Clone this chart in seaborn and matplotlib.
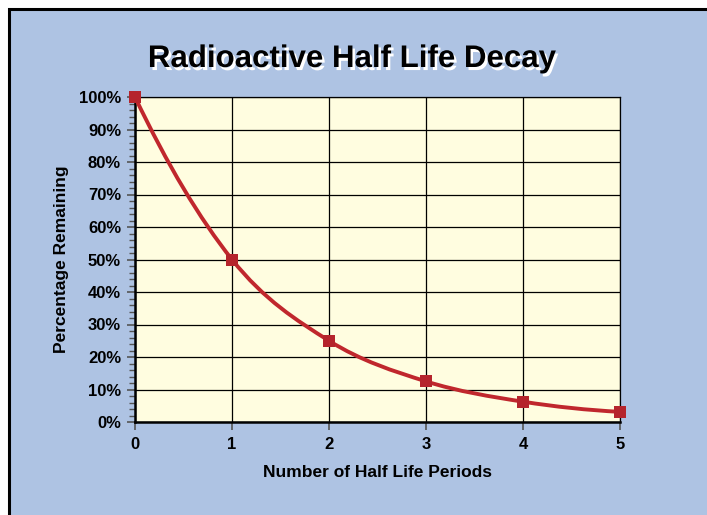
import numpy as np
import pandas as pd

import matplotlib
matplotlib.use('Agg')
import matplotlib.pyplot as plt
import matplotlib.patheffects as pe
from matplotlib.path import Path
from matplotlib.patches import PathPatch, Rectangle
from matplotlib.ticker import MultipleLocator, FuncFormatter
import seaborn as sns

sns.set_theme(style='white')
plt.rcParams['font.family'] = ['Liberation Sans', 'DejaVu Sans']

# ====
# DATA
# ====
half_life_periods = [0, 1, 2, 3, 4, 5]
percent_remaining = [100, 50, 25, 12.5, 6.25, 3.125]

title = 'Radioactive Half Life Decay'
x_label = 'Number of Half Life Periods'
y_label = 'Percentage Remaining'

# ======
# COLORS
# ======
fig_blue = '#aec3e3'
plot_yellow = '#fffde0'
curve_red = '#c0272d'
marker_red = '#b5242c'


def smooth_path(xs, ys):
    """
    Cubic Hermite (Bezier) smoothed path through the points, like a
    spreadsheet 'smoothed line'. Tangents: central differences inside,
    three-point one-sided differences at the ends.
    """
    pts = np.column_stack([xs, ys]).astype(float)
    n = len(pts)
    tang = np.zeros_like(pts)
    for i in range(1, n - 1):
        tang[i] = (pts[i + 1] - pts[i - 1]) / 2.0
    tang[0] = (-3 * pts[0] + 4 * pts[1] - pts[2]) / 2.0
    tang[-1] = (3 * pts[-1] - 4 * pts[-2] + pts[-3]) / 2.0

    verts = [pts[0]]
    codes = [Path.MOVETO]
    for i in range(n - 1):
        verts += [pts[i] + tang[i] / 3.0, pts[i + 1] - tang[i + 1] / 3.0,
                  pts[i + 1]]
        codes += [Path.CURVE4] * 3
    return Path(verts, codes)


df = pd.DataFrame({'period': half_life_periods, 'pct': percent_remaining})

fig = plt.figure(figsize=(7.07, 5.15), dpi=100, facecolor='white')

# blue panel with black top/left border
fig.patches.append(Rectangle((8.5 / 707, -0.05), 1.1, (515 - 8.5) / 515 + 0.05,
                             transform=fig.transFigure, facecolor=fig_blue,
                             edgecolor='black', linewidth=2.2, zorder=-5))

ax = fig.add_axes([135 / 707, (515 - 422) / 515, (620 - 135) / 707, (422 - 97) / 515])
ax.set_facecolor(plot_yellow)

ax.add_patch(PathPatch(smooth_path(df['period'], df['pct']), facecolor='none',
                       edgecolor=curve_red, linewidth=2.8, zorder=3,
                       clip_on=False))
sns.scatterplot(data=df, x='period', y='pct', marker='s', s=80,
                color=marker_red, edgecolor=marker_red, linewidth=0,
                zorder=4, clip_on=False, ax=ax)

ax.set_xlim(0, 5)
ax.set_ylim(0, 100)
ax.xaxis.set_major_locator(MultipleLocator(1))
ax.yaxis.set_major_locator(MultipleLocator(10))
ax.yaxis.set_minor_locator(MultipleLocator(2))
ax.yaxis.set_major_formatter(FuncFormatter(lambda v, p: '%d%%' % v))

ax.grid(True, which='major', color='black', linewidth=0.9)
ax.set_axisbelow(True)

for side in ['top', 'right']:
    ax.spines[side].set_linewidth(0.9)
for side in ['left', 'bottom']:
    ax.spines[side].set_linewidth(1.8)
for side in ax.spines:
    ax.spines[side].set_color('black')

ax.tick_params(axis='x', which='major', direction='out', length=6, width=1.2,
               color='#555555', bottom=True, labelsize=12, pad=5)
ax.tick_params(axis='y', which='major', direction='out', length=6, width=1.2,
               color='#555555', left=True, labelsize=12, pad=4)
ax.tick_params(axis='y', which='minor', direction='out', length=4, width=1.0,
               color='#555555', left=True)
for lab in ax.get_xticklabels() + ax.get_yticklabels():
    lab.set_fontweight('bold')
    lab.set_color('black')

ax.set_xlabel(x_label, fontsize=12.5, fontweight='bold', color='black', labelpad=9)
ax.set_ylabel(y_label, fontsize=12.5, fontweight='bold', color='black', labelpad=7)

# title with white drop shadow
fig.text(352 / 707, (515 - 59) / 515, title, ha='center', va='center',
         fontsize=22.5, fontweight='bold', color='black',
         path_effects=[pe.SimplePatchShadow(offset=(1.8, -2.2),
                                            shadow_rgbFace='white', alpha=1.0),
                       pe.Normal()])

plt.savefig('out.png', dpi=100, facecolor=fig.get_facecolor())
plt.close()
